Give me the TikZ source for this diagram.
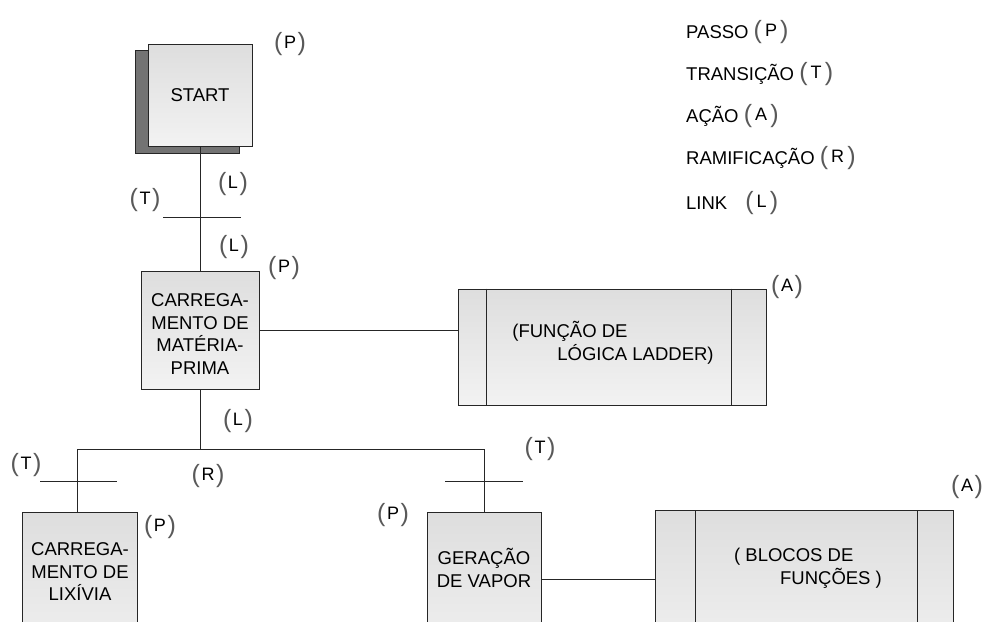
\documentclass[tikz,border=0pt]{standalone}
\usepackage{fontspec}
\setmainfont{Liberation Sans}
\newcommand{\lbpar}[1]{{\color{black!65}\fontsize{25}{25}\selectfont #1}}
\newcommand{\lb}[1]{\lbpar{(}\,{\fontsize{18}{18}\selectfont\raisebox{2pt}{#1}}\,\lbpar{)}}
\begin{document}
\begin{tikzpicture}[x=1pt,y=-1pt,
  box/.style={draw=black!85, top color=black!13, bottom color=black!5, line width=1pt, inner sep=0pt},
  shadowbox/.style={draw=black!85, fill=black!55, line width=1pt, inner sep=0pt},
  txt/.style={font=\fontsize{18.5}{22.5}\selectfont, align=center, inner sep=0pt},
  lbl/.style={inner sep=0pt},
  leg/.style={font=\fontsize{18.5}{22}\selectfont, anchor=base west, inner sep=0pt},
  wire/.style={draw=black!85, line width=1pt}]
\useasboundingbox (0,0) rectangle (990,621);
\clip (0,0) rectangle (990,621);
\fill[white] (0,0) rectangle (990,621);

% START step
\node[shadowbox, minimum width=104pt, minimum height=103pt] (sshadow) at (187,102) {};
\node[box, minimum width=104pt, minimum height=102pt] (start) at (200,95) {};
\node[txt] (starttxt) at (start.center) {START};

% first step
\node[box, minimum width=118pt, minimum height=118pt] (carr) at (200,330) {};
\node[txt] (carrtxt) at (200,334) {CARREGA-\\MENTO DE\\MATÉRIA-\\PRIMA};
\draw[wire] (start.south) -- (carr.north);
\coordinate (t1L) at (163,217);
\coordinate (t1R) at (241,217);
\draw[wire] (t1L) -- (t1R);

% action 1
\node[box, minimum width=308pt, minimum height=116pt] (act1) at (612,347) {};
\draw[wire] ([xshift=29pt]act1.north west) -- ([xshift=29pt]act1.south west);
\draw[wire] ([xshift=-35pt]act1.north east) -- ([xshift=-35pt]act1.south east);
\node[txt, align=left] (act1txt) at (613,343) {(FUNÇÃO DE\\\hspace*{45pt}LÓGICA LADDER)};
\draw[wire] (carr.east) -- (carr.east -| act1.west);

% branch
\coordinate (br) at (200,449);
\coordinate (brL) at (77,449);
\coordinate (brR) at (484,449);
\draw[wire] (carr.south) -- (br);
\draw[wire] (brL) -- (brR);

% lower steps
\node[box, minimum width=115pt, minimum height=160pt, anchor=north] (lix) at (79.5,512) {};
\node[txt] (lixtxt) at (80,572) {CARREGA-\\MENTO DE\\LIXÍVIA};
\node[box, minimum width=114pt, minimum height=160pt, anchor=north] (ger) at (484,512) {};
\node[txt] (gertxt) at (484,568) {GERAÇÃO\\DE VAPOR};
\draw[wire] (brL) -- (brL |- lix.north);
\draw[wire] (brR) -- (ger.north);
\coordinate (t2L) at (40,481);
\coordinate (t2R) at (117,481);
\draw[wire] (t2L) -- (t2R);
\coordinate (t3L) at (445,481);
\coordinate (t3R) at (523,481);
\draw[wire] (t3L) -- (t3R);

% action 2
\node[box, minimum width=298pt, minimum height=160pt, anchor=north] (blo) at (804,510) {};
\draw[wire] ([xshift=41pt]blo.north west) -- ([xshift=41pt]blo.south west);
\draw[wire] ([xshift=-36pt]blo.north east) -- ([xshift=-36pt]blo.south east);
\node[txt, align=left] (blotxt) at (808,568) {( BLOCOS DE\\\hspace*{46pt}FUNÇÕES )};
\draw[wire] ([yshift=-67pt]ger.north east) -- ([yshift=-67pt]ger.north east -| blo.west);

% labels
\node[lbl] (l1) at (290,44) {\lb{P}};
\node[lbl] (l2) at (233,184) {\lb{L}};
\node[lbl] (l3) at (145,200) {\lb{T}};
\node[lbl] (l4) at (234,247) {\lb{L}};
\node[lbl] (l5) at (284,268) {\lb{P}};
\node[lbl] (l6) at (787,287) {\lb{A}};
\node[lbl] (l7) at (238,421) {\lb{L}};
\node[lbl] (l8) at (26,465) {\lb{T}};
\node[lbl] (l9) at (208,476) {\lb{R}};
\node[lbl] (l10) at (540,449) {\lb{T}};
\node[lbl] (l11) at (160,527) {\lb{P}};
\node[lbl] (l12) at (393,515) {\lb{P}};
\node[lbl] (l13) at (967,487) {\lb{A}};

% legend
\node[leg] (g1) at (686,38) {PASSO \lb{P}};
\node[leg] (g2) at (686,80) {TRANSIÇÃO \lb{T}};
\node[leg] (g3) at (686,122) {AÇÃO \lb{A}};
\node[leg] (g4) at (686,164) {RAMIFICAÇÃO \lb{R}};
\node[leg] (g5) at (686,209) {LINK\hspace{18pt}\lb{L}};
\end{tikzpicture}
\end{document}
